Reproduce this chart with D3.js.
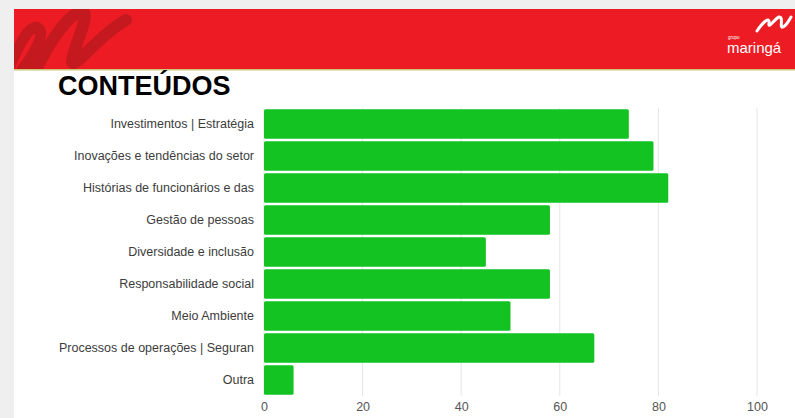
<!DOCTYPE html>
<html>
<head>
<meta charset="utf-8">
<script src="https://cdn.jsdelivr.net/npm/d3@7"></script>
<style>
  body { margin: 0; background: #efefef; }
  svg { display: block; }
</style>
</head>
<body>
<svg width="795" height="418"></svg>
<script>
// topics and counts
var categories = [
  'Investimentos | Estratégia',
  'Inovações e tendências do setor',
  'Histórias de funcionários e das',
  'Gestão de pessoas',
  'Diversidade e inclusão',
  'Responsabilidade social',
  'Meio Ambiente',
  'Processos de operações | Seguran',
  'Outra'
];
var values = [74, 79, 82, 58, 45, 58, 50, 67, 6];
var ticks = [0, 20, 40, 60, 80, 100];

var svg = d3.select('svg');

// slide background
svg.append('rect')
  .attr('x', 14).attr('y', 9)
  .attr('width', 781).attr('height', 409)
  .attr('fill', '#fff');

// red header band
svg.append('rect')
  .attr('x', 14).attr('y', 9)
  .attr('width', 781).attr('height', 60)
  .attr('fill', '#ed1c24');
svg.append('rect')
  .attr('x', 14).attr('y', 69)
  .attr('width', 781).attr('height', 1.5)
  .attr('fill', '#c9c77a');

// darker swoosh on the left of header
var band = svg.append('g');
band.append('clipPath').attr('id', 'hdr')
  .append('rect').attr('x', 14).attr('y', 9).attr('width', 781).attr('height', 60);
var sw = band.append('g').attr('clip-path', 'url(#hdr)');
sw.append('path')
  .attr('d', 'M4,80 C20,40 32,20 40,30 C44,38 30,60 22,70')
  .attr('fill', 'none').attr('stroke', '#c3191f').attr('stroke-width', 11).attr('stroke-linecap', 'round');
sw.append('path')
  .attr('d', 'M34,74 C50,40 70,12 82,12 C92,12 72,50 72,62 C74,70 100,34 126,20')
  .attr('fill', 'none').attr('stroke', '#c3191f').attr('stroke-width', 12).attr('stroke-linecap', 'round');

// logo
svg.append('path')
  .attr('d', 'M757,31 C763,22 770,16 769,23 C768,30 774,19 779,17 C784,16 779,29 783,27 C787,25 789,20 791,17')
  .attr('fill', 'none').attr('stroke', '#fff').attr('stroke-width', 3).attr('stroke-linecap', 'round');
svg.append('text')
  .attr('x', 728).attr('y', 39)
  .attr('font-family', 'Liberation Sans, Arial, sans-serif')
  .attr('font-size', 4.5)
  .attr('fill', '#fff')
  .text('grupo');
svg.append('text')
  .attr('x', 727).attr('y', 53)
  .attr('font-family', 'Liberation Sans, Arial, sans-serif')
  .attr('font-size', 15)
  .attr('fill', '#fff')
  .text('maringá');

// title
svg.append('text')
  .attr('x', 58).attr('y', 95)
  .attr('font-family', 'Liberation Sans, Arial, sans-serif')
  .attr('font-weight', 'bold')
  .attr('font-size', 27)
  .attr('fill', '#000')
  .text('CONTEÚDOS');

var x = d3.scaleLinear()
  .domain([0, 100])
  .range([264, 757]);

var y = d3.scaleBand()
  .domain(categories)
  .range([108, 396])
  .paddingInner(0.08)
  .paddingOuter(0.04);

var chart = svg.append('g').classed('chart', true);

// gridlines
chart.selectAll('.grid')
  .data(ticks)
  .enter()
  .append('line')
    .classed('grid', true)
    .attr('x1', d => x(d)).attr('x2', d => x(d))
    .attr('y1', 108).attr('y2', 396)
    .attr('stroke', '#e6e6e6')
    .attr('stroke-width', 1);

chart.selectAll('.bar')
  .data(values)
  .enter()
  .append('rect')
    .classed('bar', true)
    .attr('x', x(0))
    .attr('y', (d, i) => y(categories[i]))
    .attr('width', d => x(d) - x(0))
    .attr('height', y.bandwidth())
    .attr('rx', 1.5)
    .attr('fill', '#12c322');

var xAxis = d3.axisBottom(x).tickValues(ticks).tickSize(0).tickPadding(6);
chart.append('g')
  .attr('transform', 'translate(0,396)')
  .call(xAxis)
  .call(g => g.select('.domain').remove())
  .selectAll('text')
    .attr('font-family', 'Liberation Sans, Arial, sans-serif')
    .attr('font-size', 12.5)
    .attr('fill', '#555');

var yAxis = d3.axisLeft(y).tickSize(0).tickPadding(10);
chart.append('g')
  .attr('transform', 'translate(264,0)')
  .call(yAxis)
  .call(g => g.select('.domain').remove())
  .selectAll('text')
    .attr('font-family', 'Liberation Sans, Arial, sans-serif')
    .attr('font-size', 12.5)
    .attr('fill', '#3c3c3c');
</script>
</body>
</html>
